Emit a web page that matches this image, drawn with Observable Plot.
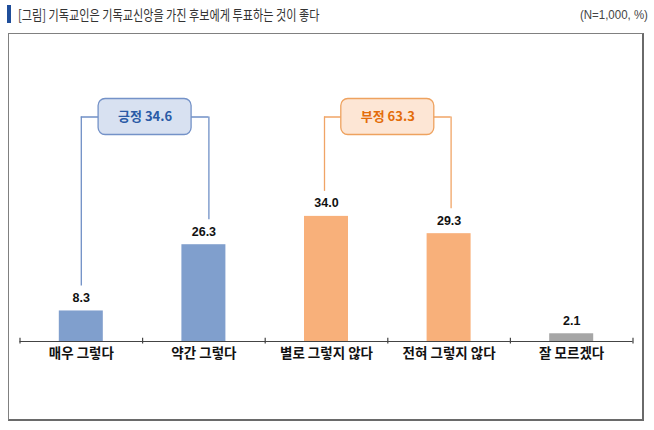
<!DOCTYPE html>
<html><head><meta charset="utf-8">
<script src="https://cdn.jsdelivr.net/npm/d3@7"></script>
<script src="https://cdn.jsdelivr.net/npm/@observablehq/plot@0.6"></script>
<style>
body{margin:0;background:#fff;width:654px;height:430px;position:relative;overflow:hidden;font-family:"Noto Sans CJK KR","Noto Sans",sans-serif}
#mark{position:absolute;left:7px;top:5px;width:4px;height:18px;background:#1F4E9A}
#title{position:absolute;left:18px;top:3px;font-size:14px;color:#333;white-space:nowrap;transform:scaleX(0.795);transform-origin:left center;line-height:22px}
#note{position:absolute;right:6px;top:4px;font-size:13.5px;color:#444;white-space:nowrap;transform:scaleX(0.85);transform-origin:right center;line-height:22px;font-family:"Liberation Sans Narrow","Liberation Sans",sans-serif}
#box{position:absolute;left:8px;top:33px;width:633px;height:385px;border:1px solid #808080;border-right:2px solid #6a6a6a;border-bottom:2px solid #6a6a6a}
#chart{position:absolute;left:0;top:0}
</style>
</head><body>
<div id="mark"></div>
<div id="title">[그림] 기독교인은 기독교신앙을 가진 후보에게 투표하는 것이 좋다</div>
<div id="note">(N=1,000, %)</div>
<div id="box"><div id="chart"></div></div>
<script>
// ---- data ----
const categories = ["매우 그렇다", "약간 그렇다", "별로 그렇지 않다", "전혀 그렇지 않다", "잘 모르겠다"];
const values = [8.3, 26.3, 34.0, 29.3, 2.1];
const groupOf = ["긍정", "긍정", "부정", "부정", "모름"];
const groupNames = ["긍정", "부정"];
const groupTotals = [34.6, 63.3];
const groupFirst = [0, 2];
const groupLast = [1, 3];

// ---- styles ----
const barFill = {"긍정": "#809FCD", "부정": "#F8B07A", "모름": "#A6A6A6"};
const lineColor = {"긍정": "#6F8FC6", "부정": "#F0A466"};
const boxFill = {"긍정": "#D8E1F1", "부정": "#FDE6D5"};
const boxStroke = {"긍정": "#7492C8", "부정": "#EEA25F"};
const textColor = {"긍정": "#2A5AA6", "부정": "#E36C0A"};

const W = 633, H = 385;
const mL = 10.5, mR = 9.5, mB = 78;
const pxPerUnit = 3.68;
const yMax = 80;
const mT = H - mB - yMax * pxPerUnit;
const band = (W - mL - mR) / categories.length;
const u = px => px / band;          // px -> x units
const v = px => px / pxPerUnit;      // px -> y units

const bars = categories.map((c, i) => ({i, c, v: values[i], g: groupOf[i]}));
const barW = u(44);
const level = v(307 - 82.5);
const ends = [];
const brackets = groupNames.map((g, k) => {
  const a = groupFirst[k], b = groupLast[k];
  const xa = a + (k === 0 ? 0 : u(-2)), xb = b + (k === 0 ? u(5) : u(2));
  ends.push({g, x: xa, y: values[a]}, {g, x: xb, y: values[b]});
  return {g, label: `${g} ${groupTotals[k].toFixed(1)}`, xa, xb, mid: (xa + xb) / 2};
});

const chart = Plot.plot({
  width: W, height: H,
  marginLeft: mL, marginRight: mR, marginTop: mT, marginBottom: mB,
  x: {domain: [-0.5, categories.length - 0.5], axis: null},
  y: {domain: [0, yMax], axis: null},
  style: {background: "transparent", overflow: "visible"},
  marks: [
    Plot.rectY(bars, {x1: d => d.i - barW / 2, x2: d => d.i + barW / 2, y1: 0, y2: "v", fill: d => barFill[d.g]}),
    Plot.ruleY([0], {stroke: "#444", strokeWidth: 1.2}),
    Plot.ruleX(d3.range(categories.length + 1).map(i => i - 0.5), {y1: -0.7, y2: 0.9, stroke: "#444", strokeWidth: 1.2}),
    Plot.text(bars, {x: "i", y: "v", text: d => d.v.toFixed(1), dy: -13, fontSize: 12.5, fontWeight: "bold", fill: "#111", fontFamily: "Liberation Sans, Arial, sans-serif"}),
    Plot.text(bars, {x: "i", y: 0, text: "c", dy: 12, fontSize: 13.5, fontWeight: "bold", fill: "#111", fontFamily: "Noto Sans CJK KR, sans-serif"}),
    Plot.ruleX(ends, {x: "x", y1: d => d.y + v(25), y2: level, stroke: d => lineColor[d.g], strokeWidth: 1.3}),
    Plot.ruleY(brackets, {y: level, x1: "xa", x2: "xb", stroke: d => lineColor[d.g], strokeWidth: 1.3}),
    Plot.rect(brackets, {x1: d => d.mid - u(46.5), x2: d => d.mid + u(46.5), y1: level - v(18), y2: level + v(18), rx: 7, fill: d => boxFill[d.g], stroke: d => boxStroke[d.g], strokeWidth: 1.3}),
    Plot.text(brackets, {x: "mid", y: level, text: "label", fill: d => textColor[d.g], fontSize: 13, fontWeight: "bold", fontFamily: "Noto Sans CJK KR, sans-serif"})
  ]
});
document.getElementById("chart").appendChild(chart);
</script>
</body></html>
